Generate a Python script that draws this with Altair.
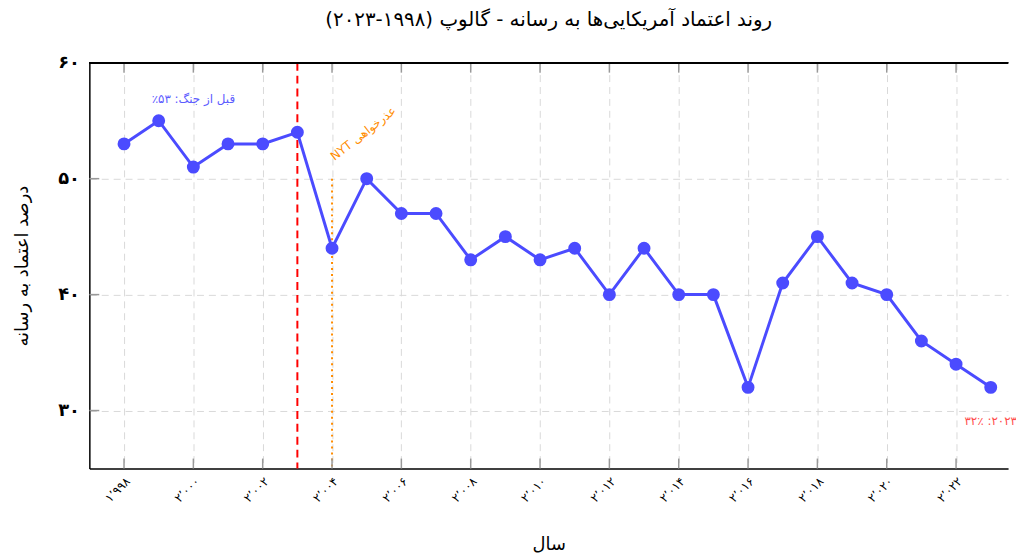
import altair as alt
import pandas as pd

# ---- data ----
years = list(range(1998, 2024))
trust = [53, 55, 51, 53, 53, 54, 44, 50, 47, 47, 43, 45, 43, 44, 40, 44, 40, 40,
         32, 41, 45, 41, 40, 36, 34, 32]

tick_years = list(range(1998, 2024, 2))
tick_labels = ["۱٬۹۹۸", "۲٬۰۰۰", "۲٬۰۰۲", "۲٬۰۰۴", "۲٬۰۰۶", "۲٬۰۰۸", "۲٬۰۱۰",
               "۲٬۰۱۲", "۲٬۰۱۴", "۲٬۰۱۶", "۲٬۰۱۸", "۲٬۰۲۰", "۲٬۰۲۲"]
y_ticks = [30, 40, 50, 60]
y_labels = ["۳۰", "۴۰", "۵۰", "۶۰"]

war_year = [2003]
nyt_year = [2004]
nyt_top = [50]

ann_text = ["قبل از جنگ: ۵۳٪", "عذرخواهی NYT", "۲۰۲۳: ۳۲٪"]
ann_x = [2000, 2004.9, 2023]
ann_y = [56.9, 53.9, 29.1]

title_text = "روند اعتماد آمریکایی‌ها به رسانه - گالوپ (۱۹۹۸-۲۰۲۳)"
x_title = "سال"
y_title = "درصد اعتماد به رسانه"

RLE, PDF = "\u202B", "\u202C"
def rtl(s):
    return RLE + s + PDF

FONT = "DejaVu Sans"
W, H = 926, 409
BLUE = "#4b4bff"

df = pd.DataFrame({"year": years, "trust": trust})

def js_list(vals):
    return "[" + ",".join("'" + str(v) + "'" for v in vals) + "]"

x_expr = js_list(tick_labels) + "[indexof([" + ",".join(map(str, tick_years)) + "], datum.value)]"
y_expr = js_list(y_labels) + "[indexof([" + ",".join(map(str, y_ticks)) + "], datum.value)]"

xscale = alt.Scale(domain=[1997, 2023.5], nice=False, zero=False)
yscale = alt.Scale(domain=[25, 60], nice=False, zero=False)

xaxis = alt.Axis(values=tick_years, labelExpr=x_expr, labelAngle=315, labelFontSize=12,
                 labelFont=FONT, labelColor="black", labelPadding=7,
                 grid=True, gridDash=[7, 5], gridColor="#d9d9d9", gridWidth=1,
                 ticks=False, domainColor="black", domainWidth=1.5,
                 title=rtl(x_title), titleFont=FONT, titleFontSize=18, titleFontWeight="normal",
                 titleColor="black", titlePadding=32)
yaxis = alt.Axis(values=y_ticks, labelExpr=y_expr, labelFontSize=18, labelFontWeight="bold",
                 labelFont=FONT, labelColor="black", labelPadding=10,
                 grid=True, gridDash=[7, 5], gridColor="#d9d9d9", gridWidth=1,
                 ticks=False, domainColor="black", domainWidth=1.5,
                 title=rtl(y_title), titleFont=FONT, titleFontSize=18, titleFontWeight="normal",
                 titleColor="black", titlePadding=26)

base = alt.Chart(df)

line = base.mark_line(color=BLUE, strokeWidth=3).encode(
    x=alt.X("year:Q", scale=xscale, axis=xaxis),
    y=alt.Y("trust:Q", scale=yscale, axis=yaxis),
)
points = base.mark_circle(color=BLUE, size=170, opacity=1).encode(
    x=alt.X("year:Q", scale=xscale), y=alt.Y("trust:Q", scale=yscale))

war = alt.Chart(pd.DataFrame({"x": war_year})).mark_rule(
    color="red", strokeDash=[8, 5], strokeWidth=2).encode(x=alt.X("x:Q", scale=xscale))

nyt = alt.Chart(pd.DataFrame({"x": nyt_year, "y": nyt_top, "y2": [25]})).mark_rule(
    color="#ff8c00", strokeDash=[2, 4], strokeWidth=2).encode(
    x=alt.X("x:Q", scale=xscale), y=alt.Y("y:Q", scale=yscale), y2="y2:Q")

# inward tick marks
xt = pd.DataFrame({"x": tick_years})
xticks_bottom = alt.Chart(xt).mark_rule(color="#999999", strokeWidth=1.5).encode(
    x=alt.X("x:Q", scale=xscale), y=alt.value(H - 10), y2=alt.value(H))
xticks_top = alt.Chart(xt).mark_rule(color="#999999", strokeWidth=1.5).encode(
    x=alt.X("x:Q", scale=xscale), y=alt.value(0), y2=alt.value(10))
yt = pd.DataFrame({"y": y_ticks})
yticks = alt.Chart(yt).mark_rule(color="#999999", strokeWidth=1.5).encode(
    y=alt.Y("y:Q", scale=yscale), x=alt.value(0), x2=alt.value(10))
top_border = alt.Chart(xt).mark_rule(color="black", strokeWidth=1.5).encode(
    x=alt.value(0), x2=alt.value(W), y=alt.value(0))

def ann(i, color, size, angle=0):
    d = pd.DataFrame({"x": [ann_x[i]], "y": [ann_y[i]], "t": [rtl(ann_text[i])]})
    return alt.Chart(d).mark_text(color=color, fontSize=size, font=FONT, angle=angle,
                                  align="center", baseline="middle").encode(
        x=alt.X("x:Q", scale=xscale), y=alt.Y("y:Q", scale=yscale), text="t:N")

a1 = ann(0, "#5c5cff", 12)
a2 = ann(1, "#ff8c00", 12, 322)
a3 = ann(2, "#ff4d4d", 12)

chart = alt.layer(war, nyt, line, points, xticks_bottom, xticks_top, yticks, top_border,
                  a1, a2, a3).properties(
    width=W, height=H,
    title=alt.TitleParams(rtl(title_text), font=FONT, fontSize=20, fontWeight="normal",
                          color="black", anchor="middle", offset=24),
    autosize=alt.AutoSizeParams(type="none"),
    padding={"left": 82, "top": 53, "right": 8, "bottom": 84},
).configure_view(stroke=None)

chart.save("out.html", embed_options={"renderer": "svg", "actions": False})
